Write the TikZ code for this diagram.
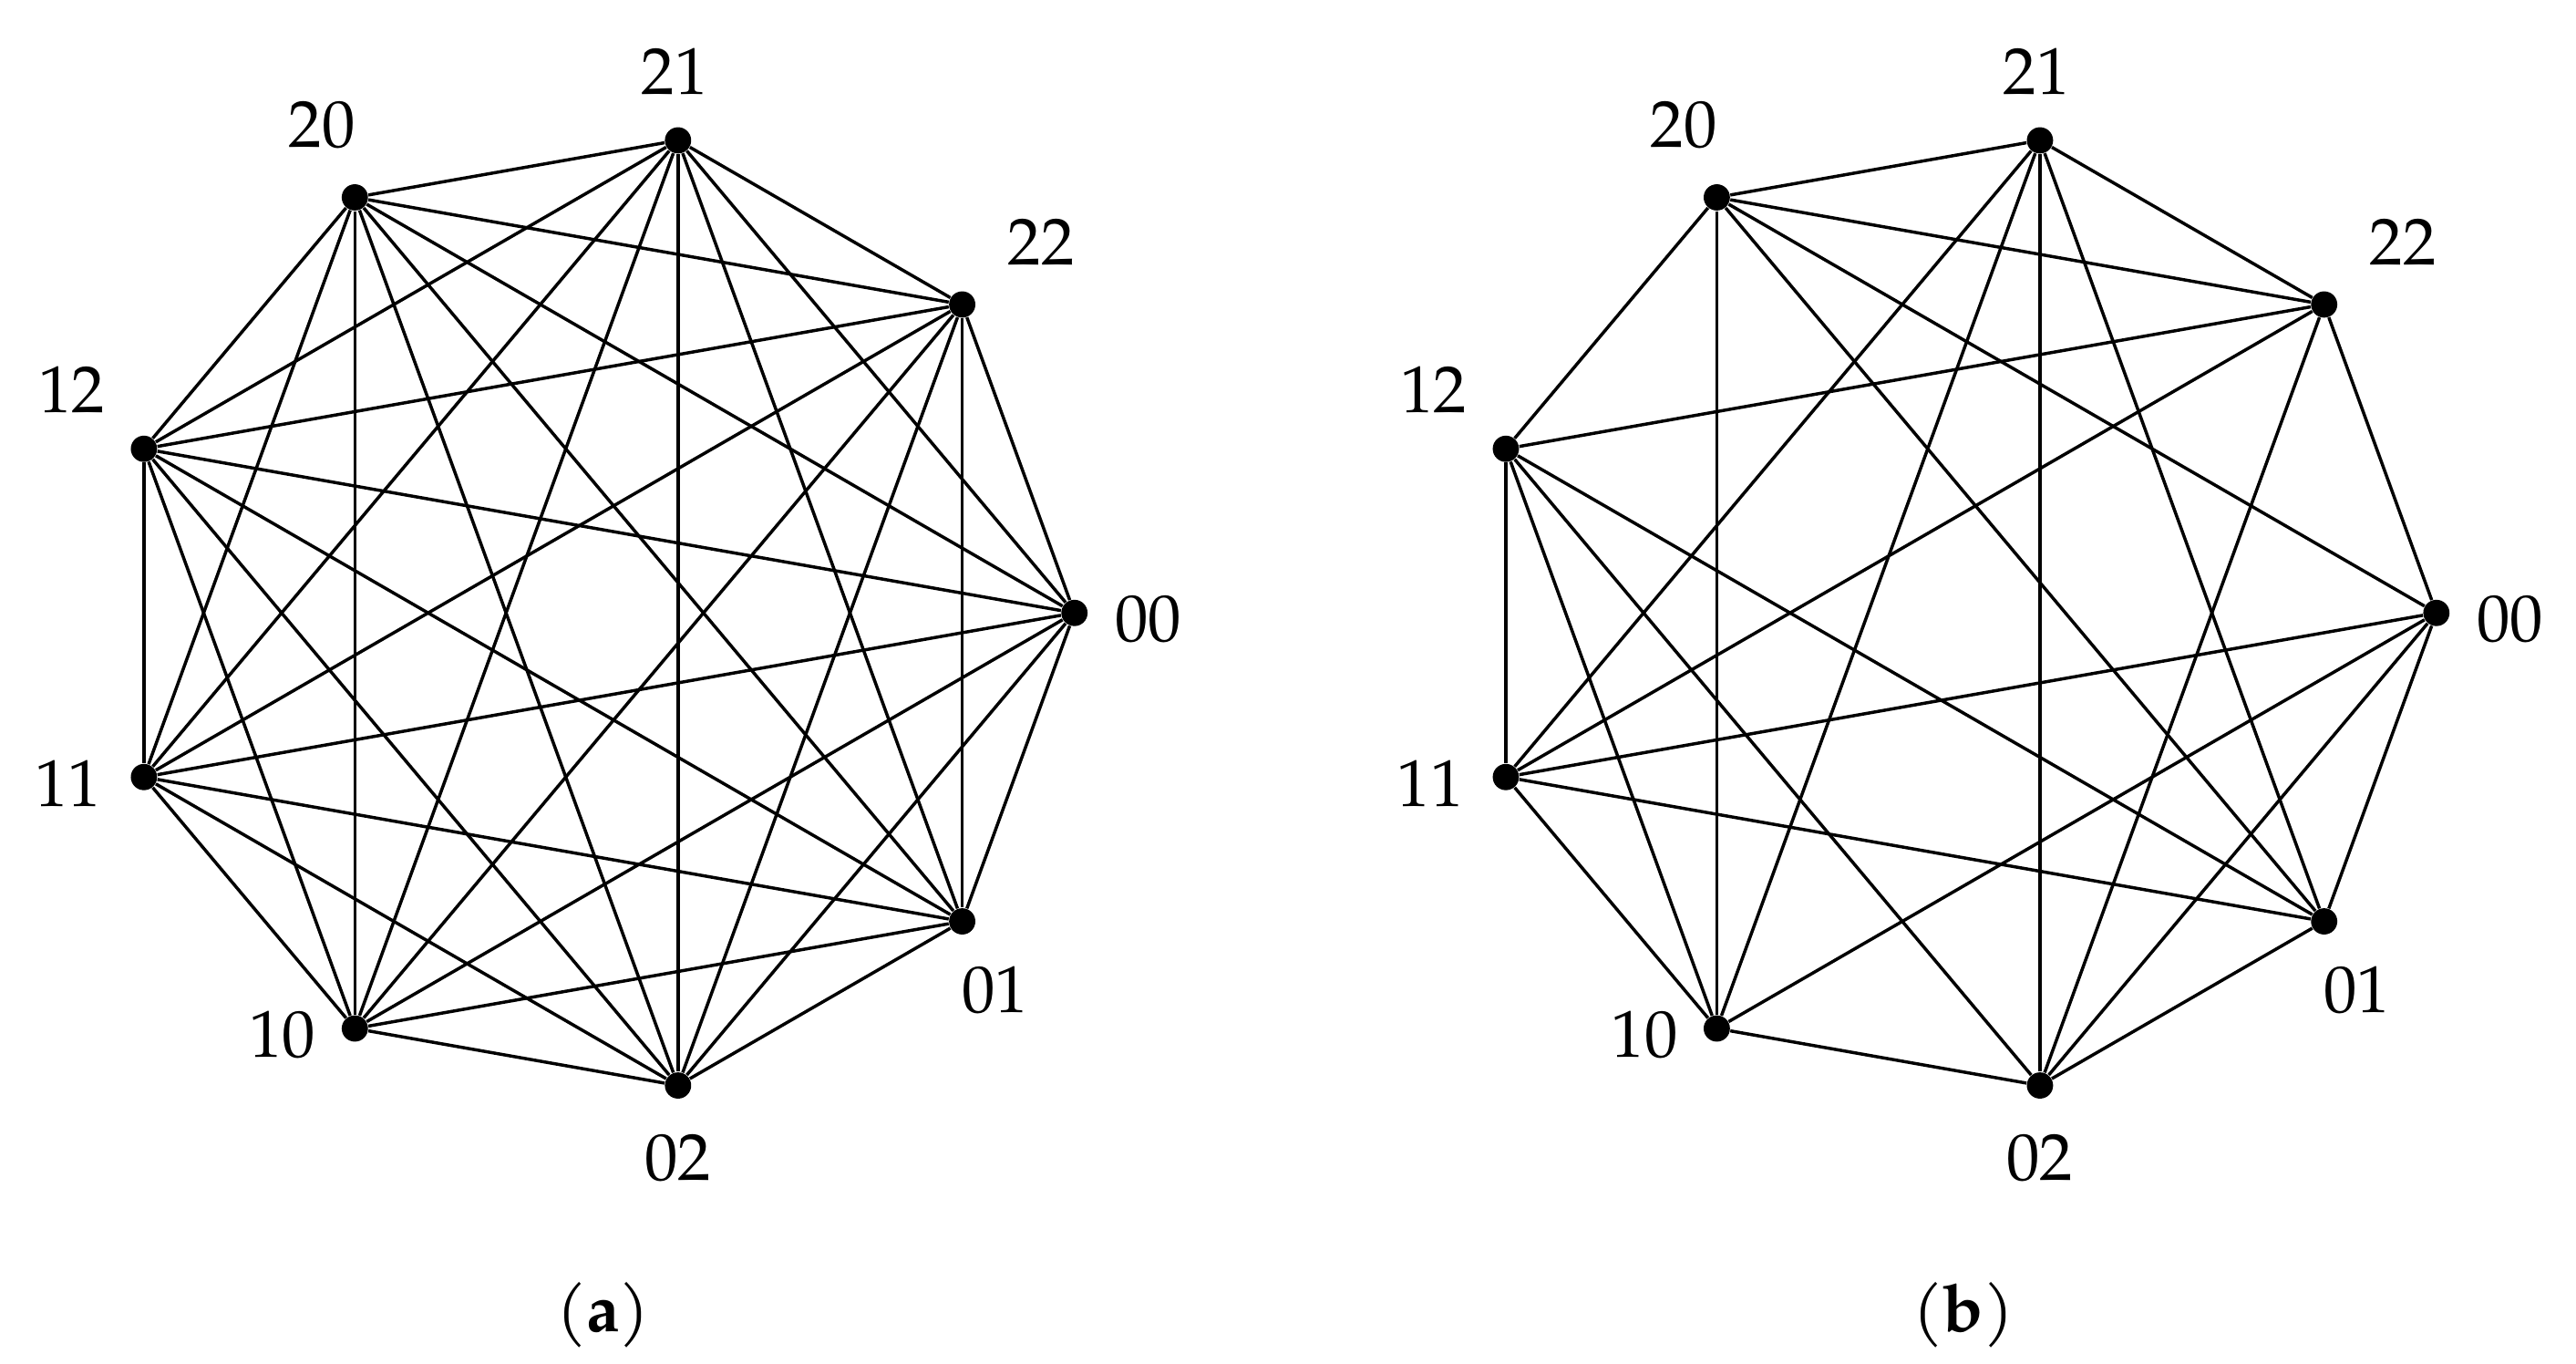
\documentclass[tikz,border=0pt]{standalone}
\usepackage{fontspec}
\setmainfont{TeX Gyre Pagella}
\usetikzlibrary{calc}
\begin{document}
\begin{tikzpicture}[x=0.02cm,y=-0.02cm,
  vert/.style={circle,fill=black,inner sep=0pt,minimum size=0.32cm},
  lab/.style={font=\fontsize{23}{26}\selectfont},
  edge/.style={line width=1.1pt}]
\useasboundingbox (0,0) rectangle (1568,830);
\def\R{292}
\def\names{00,22,21,20,12,11,10,02,01}
\foreach \cx/\p in {362/a,1191/b}{
  \foreach \n [count=\i from 0] in \names{
    \pgfmathsetmacro\ang{40*\i}
    \node[vert] (\p\n) at ({\cx+\R*cos(\ang)},{373-\R*sin(\ang)}) {};
  }
  \node[lab] at ($(\p00)+(45,4)$) {00};
  \node[lab] at ($(\p22)+(48,-38)$) {22};
  \node[lab] at ($(\p21)+(-2,-42)$) {21};
  \node[lab] at ($(\p20)+(-20,-44)$) {20};
  \node[lab] at ($(\p12)+(-44,-36)$) {12};
  \node[lab] at ($(\p11)+(-46,4)$) {11};
  \node[lab] at ($(\p10)+(-44,4)$) {10};
  \node[lab] at ($(\p02)+(0,44)$) {02};
  \node[lab] at ($(\p01)+(20,42)$) {01};
}
\node[lab] (capa) at (367,800) {(\textbf{a})};
\node[lab] (capb) at (1195,800) {(\textbf{b})};
% (a): complete graph
\foreach \u [count=\i] in \names{
  \foreach \v [count=\j] in \names{
    \ifnum\i<\j \draw[edge] (a\u) -- (a\v); \fi
  }
}
% (b): non-adjacent iff difference is 12 or 21 (mod 3)
\foreach \u [count=\i] in \names{
  \foreach \v [count=\j] in \names{
    \ifnum\i<\j
      \pgfmathtruncatemacro\ua{div(\u,10)}
      \pgfmathtruncatemacro\ub{mod(\u,10)}
      \pgfmathtruncatemacro\va{div(\v,10)}
      \pgfmathtruncatemacro\vb{mod(\v,10)}
      \pgfmathtruncatemacro\da{mod(\va-\ua+3,3)}
      \pgfmathtruncatemacro\db{mod(\vb-\ub+3,3)}
      \pgfmathtruncatemacro\bad{(\da==1 && \db==2) || (\da==2 && \db==1) ? 1 : 0}
      \ifnum\bad=0 \draw[edge] (b\u) -- (b\v); \fi
    \fi
  }
}
\end{tikzpicture}
\end{document}
